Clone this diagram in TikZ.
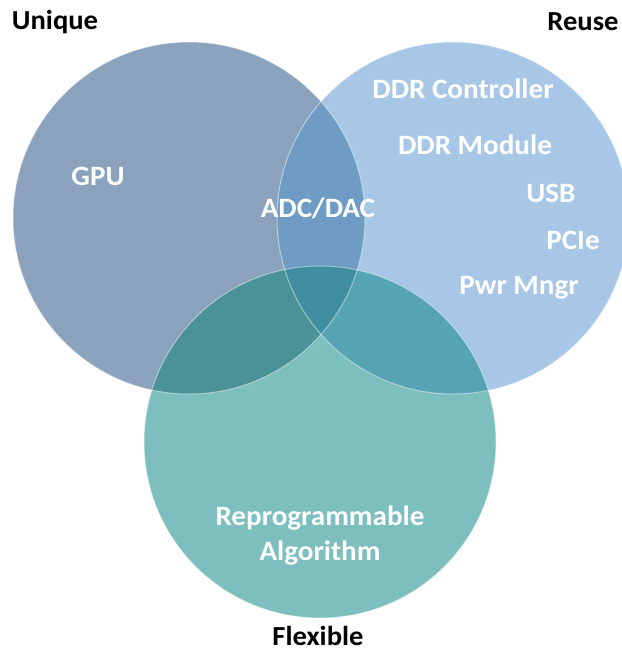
\documentclass[tikz,border=0pt]{standalone}
\usepackage{fontspec}
\setmainfont{Carlito}[FakeStretch=1.04]
\definecolor{cA}{HTML}{8AA2BB}
\definecolor{cB}{HTML}{A8C7E6}
\definecolor{cC}{HTML}{7DBEBE}
\definecolor{cAB}{HTML}{6F9CC4}
\definecolor{cAC}{HTML}{4A9198}
\definecolor{cBC}{HTML}{56A3B4}
\definecolor{cABC}{HTML}{408EA0}
\tikzset{
  title/.style={font=\fontsize{27.5}{30}\selectfont\bfseries, text=black, inner sep=0pt},
  lbl/.style={font=\fontsize{28}{30}\selectfont\bfseries, text=white, inner sep=0pt, align=center},
  rim/.style={draw=white, draw opacity=0.45, line width=1pt}
}
\begin{document}
\begin{tikzpicture}[x=1pt,y=-1pt]
\useasboundingbox (0,0) rectangle (621,653);
\fill[white] (0,0) rectangle (621,653);
\coordinate (A) at (189,218);
\coordinate (B) at (453,218);
\coordinate (C) at (320,442);
\def\R{176pt}
\fill[cA] (A) circle[radius=\R];
\fill[cB] (B) circle[radius=\R];
\fill[cC] (C) circle[radius=\R];
\begin{scope}
  \clip (A) circle[radius=\R];
  \fill[cAB] (B) circle[radius=\R];
  \fill[cAC] (C) circle[radius=\R];
\end{scope}
\begin{scope}
  \clip (B) circle[radius=\R];
  \fill[cBC] (C) circle[radius=\R];
\end{scope}
\begin{scope}
  \clip (A) circle[radius=\R];
  \clip (B) circle[radius=\R];
  \fill[cABC] (C) circle[radius=\R];
\end{scope}
\draw[rim] (A) circle[radius=\R];
\draw[rim] (B) circle[radius=\R];
\draw[rim] (C) circle[radius=\R];
\node[title] (tU) at (55,22) {Unique};
\node[title] (tR) at (583,22) {Reuse};
\node[title] (tF) at (318,636) {Flexible};
\node[lbl] (gpu) at (98,176) {GPU};
\node[lbl] (adc) at (318,208) {ADC/DAC};
\node[lbl] (ddrc) at (463,89) {DDR Controller};
\node[lbl] (ddrm) at (475,145) {DDR Module};
\node[lbl] (usb) at (551,193) {USB};
\node[lbl] (pcie) at (573,240) {PCIe};
\node[lbl] (pwr) at (519,288) {Pwr Mngr};
\node[lbl] (rep) at (320,518) {Reprogrammable};
\node[lbl] (alg) at (320,553) {Algorithm};
\end{tikzpicture}
\end{document}
